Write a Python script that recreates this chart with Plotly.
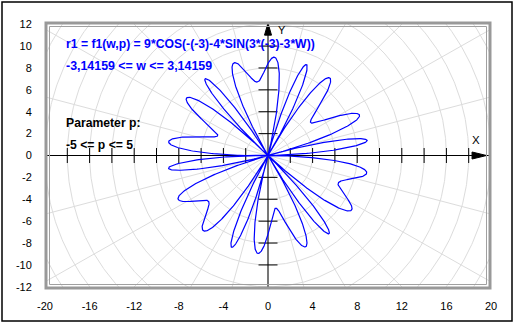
import numpy as np
import plotly.graph_objects as go

# ---- data (the chart is a plot of the formula shown in it) ----
AMPLITUDE = 9          # 9*COS(...)
P = -3                 # parameter value used
SIN_FACTOR = 4
W_MIN, W_MAX = -np.pi, np.pi
N_POINTS = 3000

X_TICKS = [-20, -16, -12, -8, -4, 0, 4, 8, 12, 16, 20]
Y_TICKS = [-12, -10, -8, -6, -4, -2, 0, 2, 4, 6, 8, 10, 12]
AXIS_MARKS = [-18, -16, -14, -12, -10, -8, -6, -4, -2, 2, 4, 6, 8, 10, 12, 14, 16, 18]
Y_AXIS_MARKS = [-10, -8, -6, -4, -2, 2, 4, 6, 8, 10]
GRID_RADII = list(range(2, 26, 2))
GRID_ANGLES_DEG = list(range(0, 360, 15))

TEXT_FORMULA = "r1 = f1(w,p) = 9*COS(-(-3)-4*SIN(3*(-3)-3*W))"
TEXT_RANGE = "-3,14159 <= w <= 3,14159"
TEXT_PARAM = "Parameter p:"
TEXT_PRANGE = "-5 <= p <= 5"

# ---- layout geometry (pixels) ----
W, H = 515, 324
L, R, T, B = 45, 24, 22, 35
PW, PH = W - L - R, H - T - B
XR = [-20, 20]
YR = [-12.2, 12.2]


def px(x):
    return (x - L) / PW


def py(y):
    return (H - B - y) / PH


fig = go.Figure()

# polar grid
grid_color = "#dcdcdc"
t = np.linspace(0, 2 * np.pi, 721)
gx, gy = [], []
for r in GRID_RADII:
    gx += list(r * np.cos(t)) + [None]
    gy += list(r * np.sin(t)) + [None]
for a in GRID_ANGLES_DEG:
    ar = np.deg2rad(a)
    gx += [0, 30 * np.cos(ar), None]
    gy += [0, 30 * np.sin(ar), None]
fig.add_trace(go.Scatter(x=gx, y=gy, mode="lines", line=dict(color=grid_color, width=1),
                         hoverinfo="skip", showlegend=False))

# axes lines
fig.add_trace(go.Scatter(x=[XR[0], XR[1]], y=[0, 0], mode="lines",
                         line=dict(color="black", width=1), showlegend=False, hoverinfo="skip"))
fig.add_trace(go.Scatter(x=[0, 0], y=[YR[0], YR[1]], mode="lines",
                         line=dict(color="black", width=1), showlegend=False, hoverinfo="skip"))

# tick marks on the inner axes
xs_ = 1 / ((XR[1] - XR[0]) / PW)   # px per unit x
ys_ = PH / (YR[1] - YR[0])          # px per unit y
mx, my = [], []
for v in AXIS_MARKS:
    mx += [v, v, None]
    my += [-7.5 / ys_, 7.5 / ys_, None]
for v in Y_AXIS_MARKS:
    mx += [-9.5 / xs_, 9.5 / xs_, None]
    my += [v, v, None]
fig.add_trace(go.Scatter(x=mx, y=my, mode="lines", line=dict(color="black", width=1),
                         showlegend=False, hoverinfo="skip"))

# curve
w = np.linspace(W_MIN, W_MAX, N_POINTS)
r = AMPLITUDE * np.cos(-P - SIN_FACTOR * np.sin(3 * P - 3 * w))
fig.add_trace(go.Scatter(x=r * np.cos(w), y=r * np.sin(w), mode="lines",
                         line=dict(color="#0000ff", width=1.2), showlegend=False))

shapes = []
# arrowheads (data coords)
ux = 1 / xs_
uy = 1 / ys_
shapes.append(dict(type="path", xref="x", yref="y",
                   path=f"M {18.3} {-3.5*uy} L {19.6} 0 L {18.3} {3.5*uy} Z",
                   fillcolor="black", line=dict(color="black", width=1)))
shapes.append(dict(type="path", xref="x", yref="y",
                   path=f"M {-3.5*ux} {11.0} L 0 {12.1} L {3.5*ux} {11.0} Z",
                   fillcolor="black", line=dict(color="black", width=1)))
# plot frame (double gray)
shapes.append(dict(type="rect", xref="paper", yref="paper",
                   x0=px(46), x1=px(490), y0=py(288), y1=py(23),
                   line=dict(color="#999999", width=3)))
shapes.append(dict(type="rect", xref="paper", yref="paper",
                   x0=px(49.5), x1=px(486.5), y0=py(284.5), y1=py(26.5),
                   line=dict(color="#a0a0a0", width=1)))
# outer black frame
shapes.append(dict(type="rect", xref="paper", yref="paper",
                   x0=px(2), x1=px(512), y0=py(321), y1=py(2),
                   line=dict(color="black", width=1.5)))

font_b = "Liberation Sans"
ann = []


def txt(s, x, y, color, size=12, bold=True):
    ann.append(dict(text=f"<b>{s}</b>" if bold else s, xref="paper", yref="paper",
                    x=px(x), y=py(y), xanchor="left", yanchor="middle", showarrow=False,
                    font=dict(family=font_b, size=size, color=color)))


txt(TEXT_FORMULA, 64, 44, "#0000ff", 12.2)
txt(TEXT_RANGE, 64, 66, "#0000ff", 12.4)
txt(TEXT_PARAM, 64, 123, "black", 12.2)
txt(TEXT_PRANGE, 64, 145, "black", 12.2)
txt("X", 470, 140, "black", 11.5, False)
txt("Y", 276, 30, "black", 11, False)

fig.update_layout(
    width=W, height=H, margin=dict(l=L, r=R, t=T, b=B),
    paper_bgcolor="white", plot_bgcolor="white",
    shapes=shapes, annotations=ann,
    xaxis=dict(range=XR, tickvals=X_TICKS, ticktext=[str(v) for v in X_TICKS],
               showgrid=False, zeroline=False, showline=False, ticks="outside",
               ticklen=7, tickcolor="rgba(0,0,0,0)",
               tickfont=dict(family="Liberation Sans", size=11, color="black")),
    yaxis=dict(range=YR, tickvals=Y_TICKS, ticktext=[str(v) for v in Y_TICKS],
               showgrid=False, zeroline=False, showline=False, ticks="outside",
               ticklen=10, tickcolor="rgba(0,0,0,0)",
               tickfont=dict(family="Liberation Sans", size=11, color="black")),
)

fig.write_html("out.html")
